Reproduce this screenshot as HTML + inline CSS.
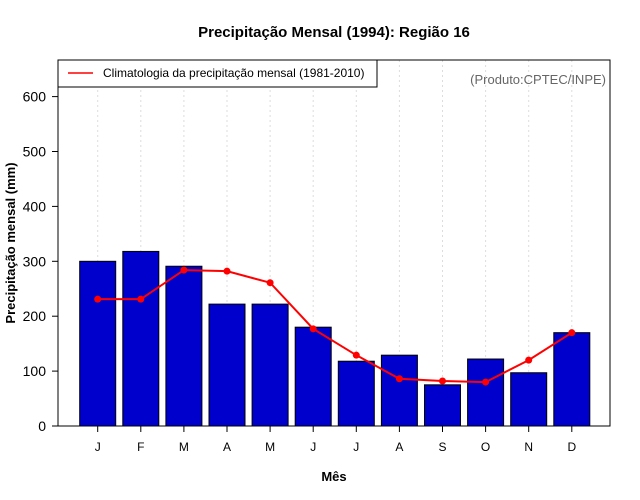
<!DOCTYPE html>
<html><head><meta charset="utf-8"><style>
body{margin:0;background:#fff;}
svg{display:block;font-family:"Liberation Sans",sans-serif;}
</style></head><body>
<svg id="c" width="640" height="500" xmlns="http://www.w3.org/2000/svg">
<text x="334" y="37" text-anchor="middle" font-size="15" font-weight="bold">Precipitação Mensal (1994): Região 16</text>
<text x="334" y="481" text-anchor="middle" font-size="13" font-weight="bold">Mês</text>
<text transform="translate(15,243) rotate(-90)" text-anchor="middle" font-size="13" font-weight="bold">Precipitação mensal (mm)</text>
<g id="grid"></g><g id="bars"></g><g id="line"></g><g id="axes"></g>
<rect x="58" y="60" width="552" height="366" fill="none" stroke="#000" stroke-width="1"/>
<g>
<rect x="58" y="60" width="319" height="27" fill="#fff" stroke="#000"/>
<line x1="68" y1="73" x2="93" y2="73" stroke="red" stroke-width="1.5"/>
<text x="103" y="77" font-size="12">Climatologia da precipitação mensal (1981-2010)</text>
</g>
<text x="606" y="84" text-anchor="end" font-size="13" fill="#666">(Produto:CPTEC/INPE)</text>
</svg>
<script>
const months=["J","F","M","A","M","J","J","A","S","O","N","D"];
const precip=[300,318,291,222,222,180,118,129,75,122,97,170];
const climatology=[231,231,284,282,261,177,129,86,82,80,120,170];
const yTicks=[0,100,200,300,400,500,600];
const NS="http://www.w3.org/2000/svg";
const x=i=>97.7+i*43.1;
const y=v=>426-v*0.549;
function mk(t,a,p){const e=document.createElementNS(NS,t);for(const k in a)e.setAttribute(k,a[k]);p.appendChild(e);return e;}
const g=document.getElementById('grid'),b=document.getElementById('bars'),l=document.getElementById('line'),ax=document.getElementById('axes');
months.forEach((m,i)=>{
 const gl=mk('line',{x1:x(i),x2:x(i),y1:60,y2:426,stroke:'#ddd','stroke-dasharray':'2,3'},g);
 
 
 const r=mk('rect',{x:x(i)-18,y:y(precip[i]),width:36,height:426-y(precip[i]),fill:'#0000cd',stroke:'#000','stroke-width':1},b);
 
 
 const t=mk('line',{x1:x(i),x2:x(i),y1:426,y2:432,stroke:'#000'},ax);
 
 
 const tl=mk('text',{x:x(i),y:451,'text-anchor':'middle','font-size':12},ax);
 tl.textContent=m;
 
 
});
const pl=mk('polyline',{points:climatology.map((v,i)=>x(i)+','+y(v)).join(' '),fill:'none',stroke:'red','stroke-width':2},l);


climatology.forEach((v,i)=>{
 const c=mk('circle',{cx:x(i),cy:y(v),r:3.5,fill:'red'},l);
 
 
});
yTicks.forEach(v=>{
 const t=mk('line',{x1:52,x2:58,y1:y(v),y2:y(v),stroke:'#000'},ax);
 
 
 const tl=mk('text',{x:46,y:y(v)+5,'text-anchor':'end','font-size':14},ax);
 tl.textContent=v;
 
 
});
</script>
</body></html>
